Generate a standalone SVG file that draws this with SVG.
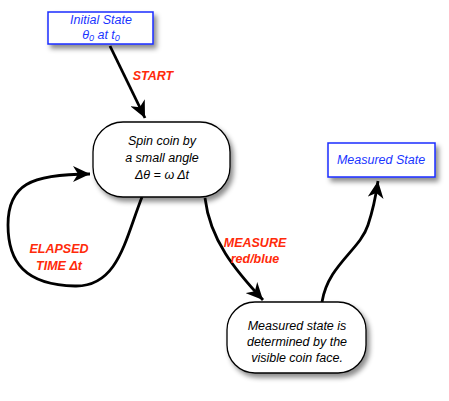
<svg xmlns="http://www.w3.org/2000/svg" width="449" height="401" viewBox="0 0 449 401">
<defs>
<filter id="sh" x="-20%" y="-20%" width="150%" height="160%">
<feDropShadow dx="3" dy="4" stdDeviation="2.5" flood-color="#000" flood-opacity="0.45"/>
</filter>
<marker id="arr" markerUnits="userSpaceOnUse" markerWidth="18" markerHeight="16" viewBox="0 0 18 16" refX="17" refY="8" orient="auto">
<path d="M0,0 L17,8 L0,16 L5,8 Z" fill="#000"/>
</marker>
<style>
.box{fill:#fff;stroke:#1a2cff;stroke-width:1.5;filter:url(#sh)}
.rnd{fill:#fff;stroke:#000;stroke-width:1.3;filter:url(#sh)}
.bt{font-family:"Liberation Sans",Arial,sans-serif;font-style:italic;font-size:12.5px;fill:#1a35ff;text-anchor:middle}
.nt{font-family:"Liberation Sans",Arial,sans-serif;font-style:italic;font-size:12.5px;fill:#000;text-anchor:middle}
.lb{font-family:"Liberation Sans",Arial,sans-serif;font-style:italic;font-weight:bold;font-size:12.5px;fill:#ff2a0a;text-anchor:middle}
.c{fill:none;stroke:#000;stroke-width:2.8;marker-end:url(#arr)}
</style>
</defs>
<g id="connectors">
<path class="c" d="M110,46 L145,118"/>
<path class="c" d="M142,197 C125,240 118,287 75,286 C25,285 8,262 8,225 C8,185 30,174 90,174"/>
<path class="c" d="M205,198 C210,240 235,270 263,300"/>
<path class="c" d="M322,302 C328,265 360,250 368,225 C373,210 376,195 378,181"/>
<text class="lb" x="153" y="80">START</text>
<text class="lb" x="59" y="253">ELAPSED</text>
<text class="lb" x="59" y="270">TIME Δt</text>
<text class="lb" x="255" y="247">MEASURE</text>
<text class="lb" x="255" y="263">red/blue</text>
</g>
<g id="initial">
<rect class="box" x="48" y="12" width="105" height="32"/>
<text class="bt" x="101" y="24">Initial State</text>
<text class="bt" x="101" y="39">θ<tspan font-size="9" dy="2">0</tspan><tspan dy="-2"> at t</tspan><tspan font-size="9" dy="2">0</tspan></text>
</g>
<g id="spin">
<rect class="rnd" x="93" y="122" width="137" height="75" rx="30"/>
<text class="nt" x="162" y="145">Spin coin by</text>
<text class="nt" x="162" y="162">a small angle</text>
<text class="nt" x="162" y="179">Δθ = ω Δt</text>
</g>
<g id="measured">
<rect class="box" x="328" y="143" width="107" height="34"/>
<text class="bt" x="381" y="164">Measured State</text>
</g>
<g id="result">
<rect class="rnd" x="227" y="302" width="139" height="71" rx="28"/>
<text class="nt" x="297" y="330">Measured state is</text>
<text class="nt" x="297" y="346">determined by the</text>
<text class="nt" x="297" y="362">visible coin face.</text>
</g>
</svg>
